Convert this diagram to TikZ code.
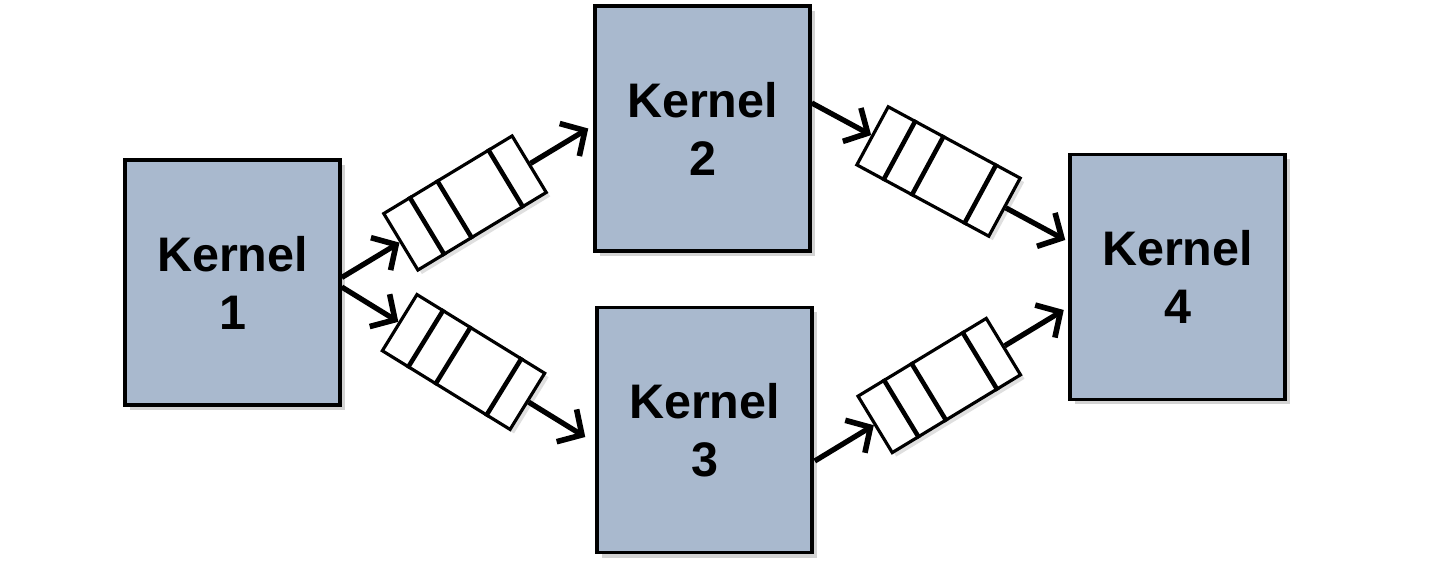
\documentclass[tikz,border=0pt]{standalone}
\usepackage{fontspec}
\setmainfont{Liberation Sans}
\usetikzlibrary{calc,arrows.meta,shadows}
\definecolor{kernelblue}{RGB}{169,185,206}

\begin{document}
\begin{tikzpicture}[
    kernel/.style = {draw=black, line width=1pt, fill=kernelblue,
      minimum width=2.15cm, minimum height=2.45cm, inner sep=0pt, align=center,
      font=\fontsize{13.8}{16.5}\selectfont\bfseries,
      drop shadow={opacity=0.35, shadow xshift=0.05cm, shadow yshift=-0.05cm}},
    queue/.style = {draw=black, line width=0.9pt, fill=white, sloped,
      minimum width=1.5cm, minimum height=0.66cm, inner sep=0pt,
      drop shadow={opacity=0.25, shadow xshift=0.04cm, shadow yshift=-0.04cm}},
    flow/.style = {-{Straight Barb[length=1.8mm,width=3.8mm,line width=1.6pt]}, line width=1.5pt}
  ]
    \useasboundingbox (0,0) rectangle (14.3,5.69);

    \node[kernel] (k1) at (2.325,2.865) {Kernel\\1};
    \node[kernel] (k2) at (7.025,4.405) {Kernel\\2};
    \node[kernel] (k3) at (7.045,1.39) {Kernel\\3};
    \node[kernel] (k4) at (11.775,2.92) {Kernel\\4};

    % ends of the four flows
    \coordinate (a1) at ($(k1.east)+(0,0.05)$);
    \coordinate (b1) at ($(k2.west)+(-0.05,0)$);
    \coordinate (a2) at ($(k1.east)+(0,-0.045)$);
    \coordinate (b2) at ($(k3.west)+(-0.1,-0.07)$);
    \coordinate (a3) at ($(k2.east)+(0,0.255)$);
    \coordinate (b3) at ($(k4.west)+(-0.03,0.37)$);
    \coordinate (a4) at ($(k3.east)+(0.01,-0.31)$);
    \coordinate (b4) at ($(k4.west)+(-0.045,-0.33)$);

    \path (a1) -- node[queue] (q1) {} (b1);
    \path (a2) -- node[queue] (q2) {} (b2);
    \path (a3) -- node[queue] (q3) {} (b3);
    \path (a4) -- node[queue] (q4) {} (b4);

    \foreach \q in {q1,q2,q3,q4}
      \foreach \f in {0.21,0.42,0.81}
        \draw[line width=1.3pt] ($(\q.north west)!\f!(\q.north east)$) -- ($(\q.south west)!\f!(\q.south east)$);

    \foreach \i in {1,2,3,4} {
      \draw[flow] (a\i) -- (q\i.west);
      \draw[flow] (q\i.east) -- (b\i);
    }
    % \draw[help lines] (0,0) grid (14,5);
\end{tikzpicture}
\end{document}
